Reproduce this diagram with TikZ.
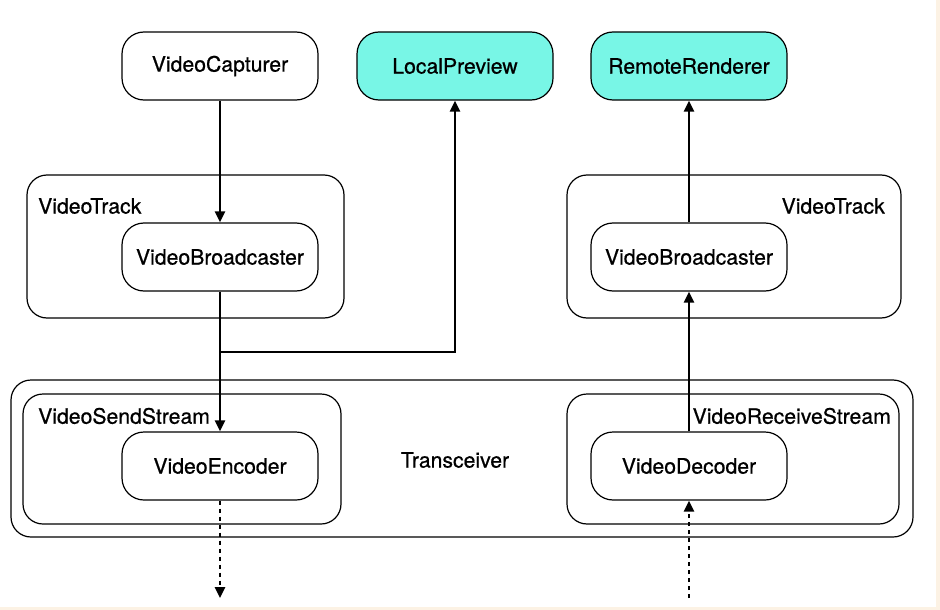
\documentclass[tikz,border=0pt]{standalone}
\usepackage{fontspec}
\setmainfont{TeX Gyre Heros}
\newfontfamily\boxfont{TeX Gyre Heros}[FakeBold=0.7]
\usepackage{tikz}
\usetikzlibrary{arrows.meta}
\usetikzlibrary{positioning}
\definecolor{previewcyan}{RGB}{120,246,230}
\definecolor{pagecream}{RGB}{252,242,228}

\begin{document}
\begin{tikzpicture}[x=1pt,y=-1pt,
  unit/.style={draw,line width=1.2pt,rounded corners=22pt,minimum width=196pt,minimum height=68pt,inner sep=0pt,font=\boxfont\fontsize{21.2}{24}\selectfont},
  sink/.style={unit,fill=previewcyan},
  holder/.style={draw,line width=1.2pt,rounded corners=20pt,inner sep=0pt},
  tag/.style={inner sep=0pt,font=\boxfont\fontsize{21.2}{24}\selectfont},
  flow/.style={line width=2.5pt,-{Triangle[length=11pt,width=10pt]}},
  wire/.style={flow,dash pattern=on 4pt off 4pt}]
  \fill[pagecream] (0,0) rectangle (940,610);
  \fill[white] (0,0) rectangle (936,607);
  \useasboundingbox (0,0) rectangle (940,610);

  %containers
  \node[holder,minimum width=902pt,minimum height=157pt] (trx) at (462,458.5) {};
  \node[holder,minimum width=317pt,minimum height=143pt] (trackl) at (185.5,246.5) {};
  \node[holder,minimum width=334pt,minimum height=143pt] (trackr) at (734,246.5) {};
  \node[holder,minimum width=318pt,minimum height=130pt] (send) at (182,459) {};
  \node[holder,minimum width=332pt,minimum height=130pt] (recv) at (733,459) {};
  \node[tag,anchor=west] (trackltag) at (38,206) {VideoTrack};
  \node[tag,anchor=east] (trackrtag) at (885,206) {VideoTrack};
  \node[tag,anchor=west] (sendtag) at (38,416) {VideoSendStream};
  \node[tag,anchor=east] (recvtag) at (891,416) {VideoReceiveStream};
  \node[tag] (trxtag) at (455,460) {Transceiver};

  %left
  \node[unit] (cap) at (220,66) {VideoCapturer};
  \node[unit] (bcl) at (220,257) {VideoBroadcaster};
  \node[unit] (enc) at (220,466) {VideoEncoder};
  \node[sink] (prev) at (455,66) {LocalPreview};
  \coordinate (split) at (220,352);
  \coordinate (net out) at (220,598);

  %right
  \node[sink] (rend) at (689,66) {RemoteRenderer};
  \node[unit] (bcr) at (689,257) {VideoBroadcaster};
  \node[unit] (dec) at (689,466) {VideoDecoder};
  \coordinate (net in) at (689,598);

  \draw[flow] (cap) -- (bcl);
  \draw[flow] (bcl) -- (enc);
  \draw[flow] (split) -| (prev);
  \draw[wire] (enc) -- (net out);
  \draw[wire] (net in) -- (dec);
  \draw[flow] (dec) -- (bcr);
  \draw[flow] (bcr) -- (rend);
\end{tikzpicture}
\end{document}
